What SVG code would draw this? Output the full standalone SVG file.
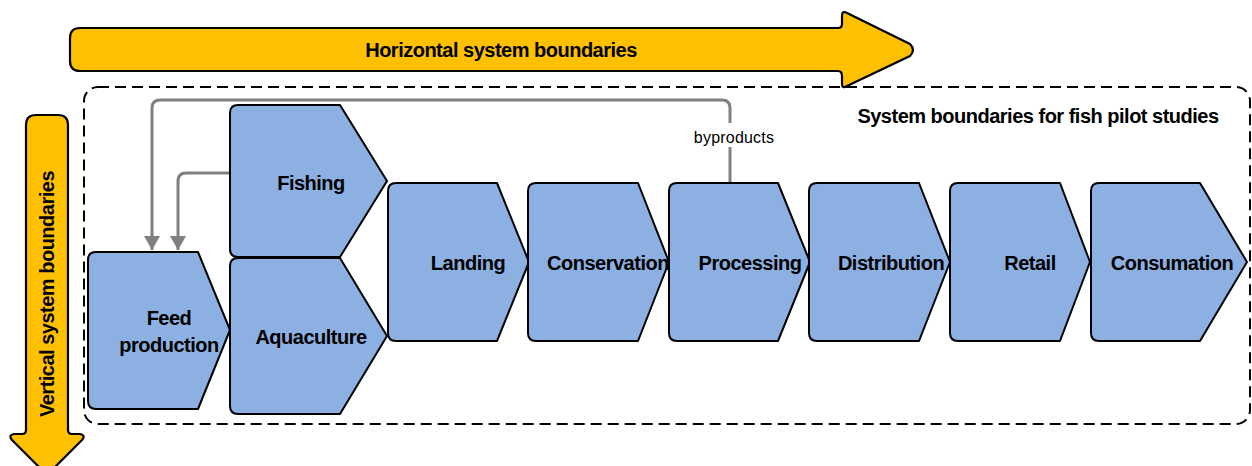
<svg xmlns="http://www.w3.org/2000/svg" width="1252" height="466" viewBox="0 0 1252 466">
<style>
.node{fill:#8DB0E2;stroke:#000;stroke-width:2;stroke-linejoin:round}
.lbl{font-family:"Liberation Sans",Arial,sans-serif;font-weight:bold;font-size:20px;letter-spacing:-0.5px;text-anchor:middle;fill:#000}
.big{fill:#FFC000;stroke:#000;stroke-width:2.2;stroke-linejoin:round}
.conn{fill:none;stroke:#808080;stroke-width:3}
</style>
<defs>
<marker id="ah" markerUnits="userSpaceOnUse" markerWidth="18" markerHeight="16" refX="14" refY="8" orient="auto">
<path d="M0,0 L14,8 L0,16 Z" fill="#808080"/>
</marker>
</defs>
<rect x="0" y="0" width="1252" height="466" fill="#fff"/>
<g id="boundary">
<rect x="84" y="87" width="1166" height="337" rx="14" fill="none" stroke="#000" stroke-width="2" stroke-dasharray="11 6"/>
<text class="lbl" x="1038" y="123">System boundaries for fish pilot studies</text>
</g>
<g id="horizontal-arrow">
<path class="big" d="M80,28 H838 Q842,28 842,24 V16 Q842,10 847,13 L910,44 Q916,50 910,56 L847,86 Q842,89 842,84 V76 Q842,71 838,71 H80 Q70,71 70,61 V38 Q70,28 80,28 Z"/>
<text class="lbl" x="501" y="57">Horizontal system boundaries</text>
</g>
<g id="vertical-arrow">
<path class="big" d="M36,115 H58 Q68,115 68,125 V430 Q68,434 72,434 H80 Q86,435 82,440 L50,472 Q47,475 44,472 L12,440 Q8,435 14,434 H22 Q26,434 26,430 V125 Q26,115 36,115 Z"/>
<text class="lbl" transform="translate(54,294) rotate(-90)" x="0" y="0">Vertical system boundaries</text>
</g>
<g id="connectors">
<path class="conn" d="M730,183 V108 Q730,100 722,100 H160 Q152,100 152,108 V250" marker-end="url(#ah)"/>
<path class="conn" d="M230,173 H186 Q178,173 178,181 V250" marker-end="url(#ah)"/>
<rect x="690" y="123" width="90" height="24" fill="#fff"/>
<text x="734" y="143" font-family="'Liberation Sans',Arial,sans-serif" font-size="16" letter-spacing="0.2" text-anchor="middle" fill="#000">byproducts</text>
</g>
<g id="feed-production">
<path class="node" d="M96,252 H198 L230,330 L198,409 H96 Q88,409 88,401 V260 Q88,252 96,252 Z"/>
<text class="lbl" x="169" y="325">Feed</text>
<text class="lbl" x="169" y="352">production</text>
</g>
<g id="fishing">
<path class="node" d="M238,105 H340 L387,181 L340,257 H238 Q230,257 230,249 V113 Q230,105 238,105 Z"/>
<text class="lbl" x="311" y="190">Fishing</text>
</g>
<g id="aquaculture">
<path class="node" d="M238,258 H340 L387,336 L340,414 H238 Q230,414 230,406 V266 Q230,258 238,258 Z"/>
<text class="lbl" x="311" y="344">Aquaculture</text>
</g>
<g id="landing">
<path class="node" d="M396,183 H497 L529,262 L497,341 H396 Q388,341 388,333 V191 Q388,183 396,183 Z"/>
<text class="lbl" x="468" y="270">Landing</text>
</g>
<g id="conservation">
<path class="node" d="M536,183 H638 L669,262 L638,341 H536 Q528,341 528,333 V191 Q528,183 536,183 Z"/>
<text class="lbl" x="608" y="270">Conservation</text>
</g>
<g id="processing">
<path class="node" d="M677,183 H778 L810,262 L778,341 H677 Q669,341 669,333 V191 Q669,183 677,183 Z"/>
<text class="lbl" x="750" y="270">Processing</text>
</g>
<g id="distribution">
<path class="node" d="M817,183 H919 L950,262 L919,341 H817 Q809,341 809,333 V191 Q809,183 817,183 Z"/>
<text class="lbl" x="891" y="270">Distribution</text>
</g>
<g id="retail">
<path class="node" d="M958,183 H1060 L1090,262 L1060,341 H958 Q950,341 950,333 V191 Q950,183 958,183 Z"/>
<text class="lbl" x="1030" y="270">Retail</text>
</g>
<g id="consumation">
<path class="node" d="M1099,183 H1200 L1247,262 L1200,341 H1099 Q1091,341 1091,333 V191 Q1091,183 1099,183 Z"/>
<text class="lbl" x="1172" y="270">Consumation</text>
</g>
</svg>
